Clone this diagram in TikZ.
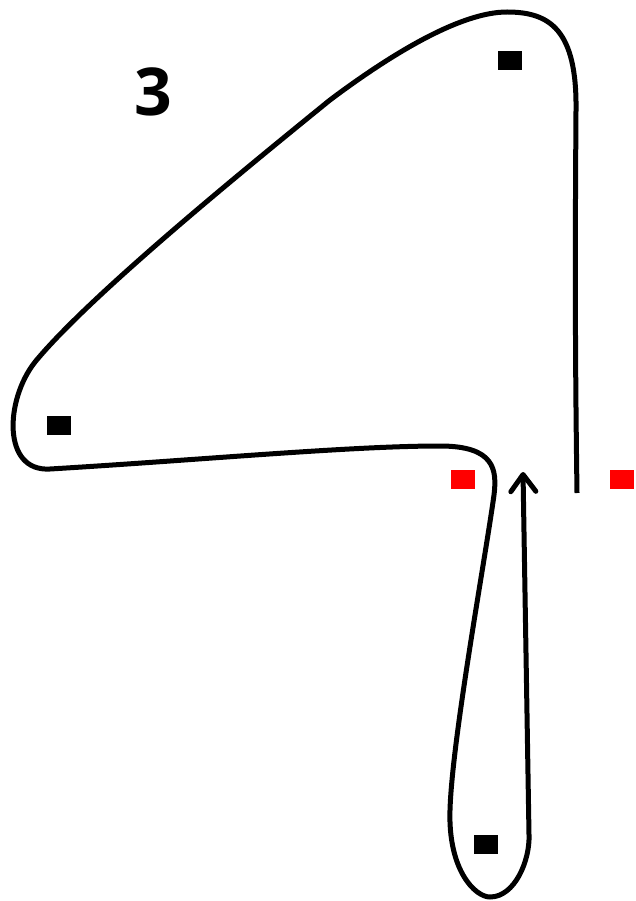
\documentclass[tikz,border=0pt]{standalone}
\usepackage{fontspec}
\newfontfamily\labelfont{Open Sans}
\usetikzlibrary{arrows.meta}
\tikzset{
  blk/.style={fill=black, draw=none, minimum width=24pt, minimum height=19pt, inner sep=0pt},
  redsq/.style={fill=red, draw=none, minimum width=24pt, minimum height=19pt, inner sep=0pt},
  route/.style={line width=5pt, black},
  lbl/.style={font=\labelfont\bfseries\fontsize{66}{70}\selectfont, inner sep=0pt}
}
\begin{document}
\begin{tikzpicture}[x=1pt,y=-1pt]
\useasboundingbox (0,0) rectangle (635,901);
\node[lbl] (num) at (153,92) {3};
\node[blk] (s1) at (510,61) {};
\node[blk] (s2) at (59,425) {};
\node[blk] (s3) at (486,844) {};
\node[redsq] (r1) at (463,479) {};
\node[redsq] (r2) at (622,479) {};
\coordinate (start) at (577,493);
\coordinate (tip) at (523,472);
\draw[route, -{Straight Barb[length=17pt,width=25pt,round]}]
  (start) .. controls (575,350) and (575,250) .. (576,110)
  .. controls (577,30) and (550,12) .. (507,12)
  .. controls (460,12) and (390,55) .. (330,100)
  .. controls (250,165) and (90,295) .. (35,362)
  .. controls (5,400) and (2,472) .. (50,469)
  .. controls (200,460) and (350,446) .. (440,446)
  .. controls (495,446) and (497,470) .. (494,495)
  .. controls (485,560) and (452,740) .. (450,810)
  .. controls (448,870) and (475,897) .. (490,897)
  .. controls (515,897) and (530,860) .. (529,835)
  -- (tip);
\end{tikzpicture}
\end{document}
